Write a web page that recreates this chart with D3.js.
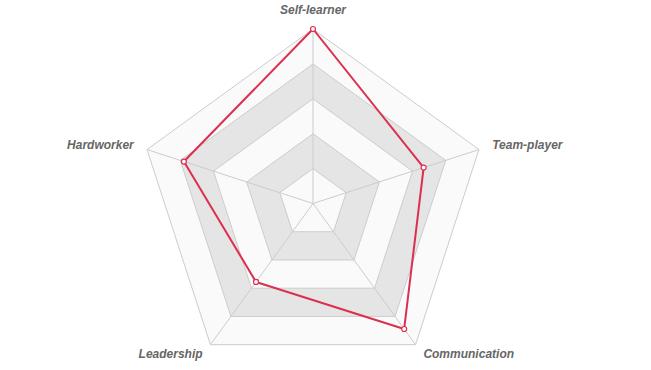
<!DOCTYPE html>
<html>
<head>
<meta charset="utf-8">
<script src="https://cdn.jsdelivr.net/npm/d3@7"></script>
<style>
  html, body { margin: 0; padding: 0; background: #fff; }
  #chart { width: 651px; height: 370px; }
  .axis-label { font-family: "Liberation Sans", Arial, sans-serif; font-size: 12px; font-weight: bold; font-style: italic; fill: #666; }
</style>
</head>
<body>
<div id="chart"></div>
<script>
const skills = ["Self-learner", "Team-player", "Communication", "Leadership", "Hardworker"];
const scores = [9, 6, 8, 5, 7];
const levels = [1, 2, 3, 4, 5];

const width = 651, height = 370;
const cx = 313, cy = 203.5, radius = 174.5;
const lineColor = "#dc2f4f";
const bandColors = ["#fafafa", "#e5e5e5"];

const svg = d3.select("#chart").append("svg")
    .attr("width", width)
    .attr("height", height);

const g = svg.append("g").attr("transform", `translate(${cx},${cy})`);

const maxValue = d3.max(scores);
const r = d3.scaleLinear().domain([0, maxValue]).range([0, radius]);
const angle = d3.scalePoint().domain(skills).range([0, 2 * Math.PI * (skills.length - 1) / skills.length]);

const pt = (name, dist) => {
    const a = angle(name) - Math.PI / 2;
    return [Math.cos(a) * dist, Math.sin(a) * dist];
};

// grid bands, drawn from outermost inward
const levelScale = d3.scaleLinear().domain([0, levels.length]).range([0, radius]);
levels.slice().reverse().forEach((lv, i) => {
    const pts = skills.map(s => pt(s, levelScale(lv)));
    g.append("polygon")
        .attr("points", pts.map(p => p.join(",")).join(" "))
        .attr("fill", bandColors[i % 2])
        .attr("stroke", "#cccccc")
        .attr("stroke-width", 1);
});

// spokes
g.selectAll(".spoke").data(skills).enter().append("line")
    .attr("class", "spoke")
    .attr("x1", 0).attr("y1", 0)
    .attr("x2", d => pt(d, radius)[0])
    .attr("y2", d => pt(d, radius)[1])
    .attr("stroke", "#cccccc")
    .attr("stroke-width", 1);

// data polygon
const line = d3.lineRadial()
    .angle((d, i) => angle(skills[i]))
    .radius(d => r(d))
    .curve(d3.curveLinearClosed);

g.append("path")
    .datum(scores)
    .attr("d", line)
    .attr("fill", "none")
    .attr("stroke", lineColor)
    .attr("stroke-width", 2)
    .attr("stroke-linejoin", "round");

g.selectAll(".dot").data(scores).enter().append("circle")
    .attr("class", "dot")
    .attr("cx", (d, i) => pt(skills[i], r(d))[0])
    .attr("cy", (d, i) => pt(skills[i], r(d))[1])
    .attr("r", 2.5)
    .attr("fill", "#fff")
    .attr("stroke", lineColor)
    .attr("stroke-width", 1.2);

// labels
const labelDist = radius + 15;
g.selectAll(".axis-label").data(skills).enter().append("text")
    .attr("class", "axis-label")
    .attr("x", d => {
        const x = pt(d, labelDist)[0];
        if (Math.abs(x) < 1) return x;
        return x > 0 ? x - 1 : x + 1;
    })
    .attr("y", d => {
        const y = pt(d, labelDist)[1];
        if (y < -labelDist + 1) return y;
        if (y < 0) return y + 3.8;
        return y + 1;
    })
    .attr("text-anchor", d => {
        const x = pt(d, labelDist)[0];
        if (Math.abs(x) < 1) return "middle";
        return x > 0 ? "start" : "end";
    })
    .text(d => d);
</script>
</body>
</html>
